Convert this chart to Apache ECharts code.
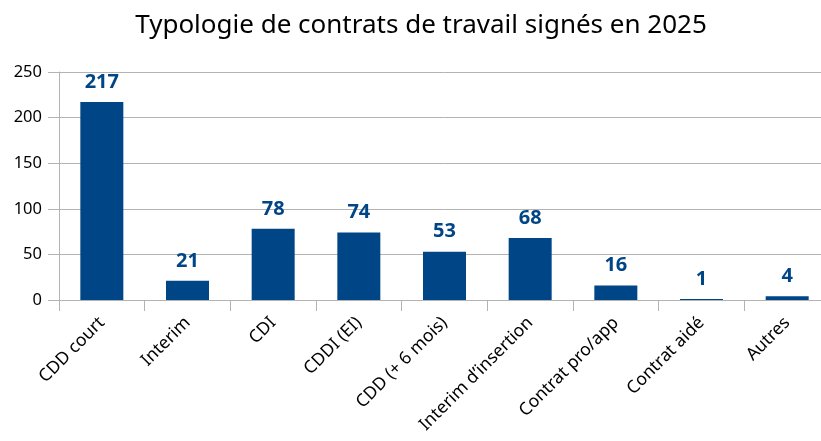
<!DOCTYPE html>
<html><head><meta charset="utf-8">
<script src="https://cdn.jsdelivr.net/npm/echarts@6/dist/echarts.min.js"></script>
<style>html,body{margin:0;padding:0;background:#fff;overflow:hidden;width:821px;height:441px}#c{width:842px;height:441px}</style>
</head><body><div id="c"></div>
<script>
const categories = ["CDD court","Interim","CDI","CDDI (EI)","CDD (+ 6 mois)","Interim d’insertion","Contrat pro/app","Contrat aidé","Autres"];
const values = [217,21,78,74,53,68,16,1,4];
const yTicks = {min:0,max:250,interval:50};
const title = "Typologie de contrats de travail signés en 2025";
const font = "Noto Sans";
const chart = echarts.init(document.getElementById('c'), null, {renderer:'canvas'});
chart.setOption({
  animation:false,
  title:{text:title,left:'center',top:8,textStyle:{fontFamily:font,fontSize:26,fontWeight:'normal',color:'#000'}},
  grid:{left:59,top:72,width:771,height:228,containLabel:false},
  xAxis:{type:'category',data:categories,
    axisLine:{lineStyle:{color:'#b3b3b3',width:1}},
    axisTick:{show:true,length:11,lineStyle:{color:'#b3b3b3'}},
    axisLabel:{rotate:45,fontFamily:font,fontSize:17.5,color:'#000',margin:20,interval:0}},
  yAxis:{type:'value',min:yTicks.min,max:yTicks.max,interval:yTicks.interval,
    axisLine:{show:true,lineStyle:{color:'#b3b3b3'}},
    axisTick:{show:true,length:11,lineStyle:{color:'#b3b3b3'}},
    splitLine:{lineStyle:{color:'#b3b3b3'}},
    axisLabel:{fontFamily:font,fontSize:16.5,color:'#000',margin:17}},
  series:[{type:'bar',data:values,barWidth:43,itemStyle:{color:'#004586'},
    label:{show:true,position:'top',distance:10,fontFamily:font,fontSize:20,fontWeight:'bold',color:'#004586'}}]
});
</script></body></html>
